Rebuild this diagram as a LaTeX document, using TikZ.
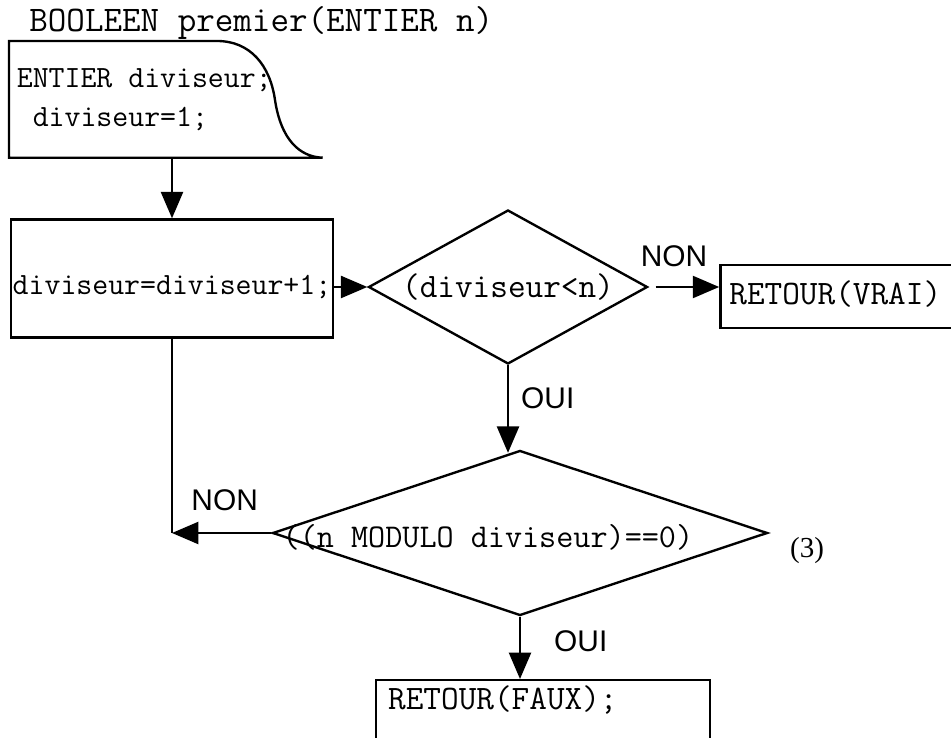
\documentclass[tikz,border=0pt]{standalone}
\usepackage{fontspec}
\newfontfamily\etiqfont{Liberation Sans}
\newfontfamily\renvoifont{Liberation Serif}
\usepackage{tikz}
\usetikzlibrary{arrows.meta, positioning, shapes.geometric}
\tikzset{
  trait/.style={line width=1.35pt},
  bloc/.style={draw, rectangle, trait, inner sep=1pt},
  test/.style={draw, diamond, trait, inner sep=0pt},
  code/.style={font=\fontsize{19.5pt}{22pt}\selectfont\ttfamily},
  petit/.style={font=\fontsize{17.6pt}{20pt}\selectfont\ttfamily},
  etiquette/.style={inner sep=2pt, font=\fontsize{17pt}{19pt}\selectfont\etiqfont},
  fleche/.style={-{Triangle[width=12.5pt,length=15pt]}, trait},
}

\begin{document}
\begin{tikzpicture}
  \useasboundingbox (0,0) rectangle (19.02,-14.76);
  \clip (0,0) rectangle (19.02,-14.76);

  \node[anchor=base west, inner sep=0, font=\fontsize{20.5pt}{22pt}\selectfont\ttfamily] (titre) at (0.58,-0.64) {BOOLEEN premier(ENTIER n)};

  % bloc d'entree, coin droit en courbe
  \node[anchor=north west, minimum width=6.26cm, minimum height=2.32cm, inner sep=0] (decl) at (0.18,-0.82) {};
  \draw[trait] (decl.south east) -- (decl.south west) -- (decl.north west) -- (4.34,-0.82)
    .. controls (5.00,-0.82) and (5.40,-1.30) .. (5.50,-2.00)
    .. controls (5.62,-2.80) and (6.00,-3.14) .. (decl.south east);
  \node[petit, anchor=base west, inner sep=0] (decl1) at (0.33,-1.76) {ENTIER diviseur;};
  \node[petit, anchor=base west, inner sep=0] (decl2) at (0.33,-2.54) {~diviseur=1;};

  \node[bloc, petit, minimum width=6.44cm, text height=1.465cm, text depth=0.825cm] (incr) at (3.44,-5.57) {diviseur=diviseur+1;};
  \node[test, code, aspect=1.8, minimum width=5.58cm, minimum height=3.08cm] (cond) at (10.16,-5.74) {(diviseur<n)};
  \node[bloc, code, right=1.41cm of cond, yshift=-0.19cm, text width=4.64cm, align=left, inner xsep=0.18cm,
        text height=0.765cm, text depth=0.425cm] (vrai) {RETOUR(VRAI)};

  \node[test, aspect=3, minimum width=9.9cm, minimum height=3.3cm] (mod) at (10.40,-10.66) {};
  \node[anchor=west, inner sep=0, font=\fontsize{18.9pt}{20pt}\selectfont\ttfamily] (modtxt)
    at ([xshift=0.22cm, yshift=-0.08cm]mod.west) {((n MODULO diviseur)==0)};
  \node[font=\fontsize{16.5pt}{18pt}\selectfont\renvoifont] (renvoi) at (16.14,-11.02) {(3)};

  \node[bloc, code, anchor=north west, text width=6.20cm, align=left, inner xsep=0.24cm, inner ysep=0.16cm,
        text height=0.42cm, text depth=1.5cm] (faux) at (7.50,-13.58) {RETOUR(FAUX);};

  \draw[fleche] (incr.north |- decl.south) -- (incr.north);
  \draw[fleche] (incr.east |- cond.west) -- (cond.west);
  \draw[fleche, shorten <=4pt] (cond.east) -- (cond.east -| vrai.west)
    node[etiquette, pos=0.36, above=0.31cm] (non1) {NON};
  \draw[fleche, shorten >=-2pt] (cond.south) -- (cond.south |- mod.north)
    node[etiquette, pos=0.39, right=0.17cm] (oui1) {OUI};
  \draw[trait] (incr.south) -- (incr.south |- mod.west) coordinate (coin);
  \draw[fleche] (mod.west) -- (coin)
    node[etiquette, pos=0.47, above=0.35cm] (non2) {NON};
  \draw[fleche] (mod.south) -- (mod.south |- faux.north)
    node[etiquette, pos=0.4, right=0.59cm] (oui2) {OUI};
\end{tikzpicture}
\end{document}
